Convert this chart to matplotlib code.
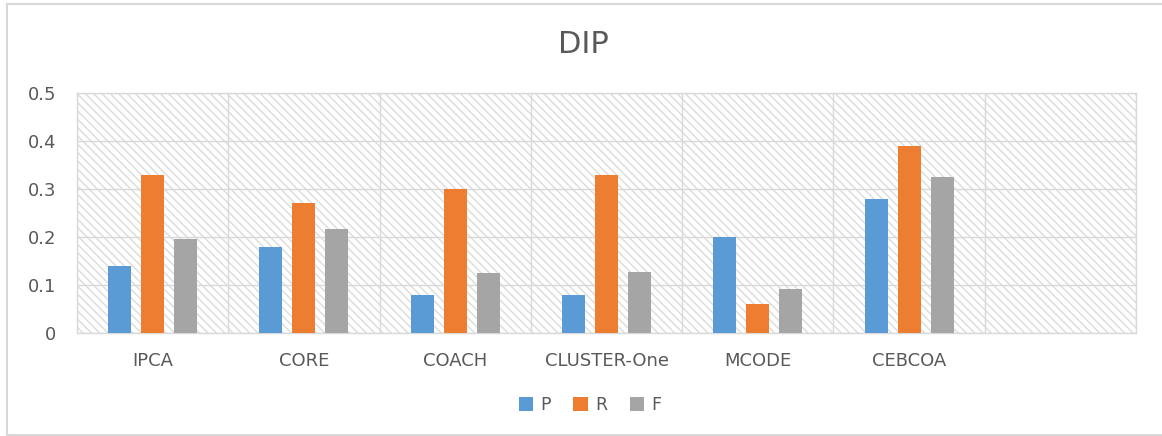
import numpy as np
import matplotlib.pyplot as plt
from matplotlib.patches import Rectangle
from matplotlib.lines import Line2D

# data
methods = ['IPCA', 'CORE', 'COACH', 'CLUSTER-One', 'MCODE', 'CEBCOA', '']
p_vals = [0.14, 0.18, 0.08, 0.08, 0.20, 0.28]
r_vals = [0.33, 0.27, 0.30, 0.33, 0.06, 0.39]
f_vals = [0.196, 0.216, 0.125, 0.127, 0.092, 0.326]

colors = {'P': '#5B9BD5', 'R': '#ED7D31', 'F': '#A5A5A5'}
grid_c = '#D9D9D9'
text_c = '#595959'

plt.rcParams['font.family'] = ['DejaVu Sans']
plt.rcParams['hatch.linewidth'] = 1.1

fig = plt.figure(figsize=(11.62, 4.36), dpi=100)
ax = fig.add_axes([77 / 1162, 1 - 333 / 436, (1136 - 77) / 1162, 240 / 436])

# outer chart border (left, top, bottom only - right side is cut off)
bx0, by0, by1 = 6.5 / 1162, 1 - 435 / 436, 1 - 4.5 / 436
for xs, ys in [([bx0, bx0], [by0, by1]), ([bx0, 1], [by1, by1]), ([bx0, 1], [by0, by0])]:
    fig.add_artist(Line2D(xs, ys, transform=fig.transFigure, color='#D9D9D9', linewidth=1.5))

# hatched plot area background
ax.add_patch(Rectangle((-0.5, 0), 7, 0.5, facecolor='white', edgecolor='#DEDEDE',
                       linewidth=0, hatch='\\\\\\\\', zorder=0))

x = np.arange(len(p_vals))
w = 0.152
step = 0.218
ax.bar(x - step, p_vals, w, color=colors['P'], label='P', zorder=3)
ax.bar(x, r_vals, w, color=colors['R'], label='R', zorder=3)
ax.bar(x + step, f_vals, w, color=colors['F'], label='F', zorder=3)

ax.set_xlim(-0.5, 6.5)
ax.set_ylim(0, 0.5)
ax.set_yticks([0, 0.1, 0.2, 0.3, 0.4, 0.5])
ax.set_yticklabels(['0', '0.1', '0.2', '0.3', '0.4', '0.5'])
ax.set_xticks(np.arange(7))
ax.set_xticklabels(methods)
ax.set_xticks(np.arange(8) - 0.5, minor=True)

ax.grid(True, axis='y', color=grid_c, linewidth=1, zorder=1)
ax.grid(True, axis='x', which='minor', color=grid_c, linewidth=1, zorder=1)
ax.set_axisbelow(True)
ax.tick_params(axis='both', which='both', length=0, labelsize=13, labelcolor=text_c)
ax.tick_params(axis='y', pad=15)
ax.tick_params(axis='x', pad=14)
for s in ax.spines.values():
    s.set_color(grid_c)
    s.set_linewidth(1)

fig.text(583 / 1162, 1 - 44 / 436, 'DIP', ha='center', va='center', fontsize=22, color=text_c)

fig.legend(loc='center', bbox_to_anchor=(590 / 1162, 1 - 405 / 436), ncol=3, frameon=False,
           fontsize=12.5, labelcolor=text_c, handlelength=0.85, handleheight=0.85,
           handletextpad=0.4, columnspacing=1.3)

fig.savefig('out.png', dpi=100)
